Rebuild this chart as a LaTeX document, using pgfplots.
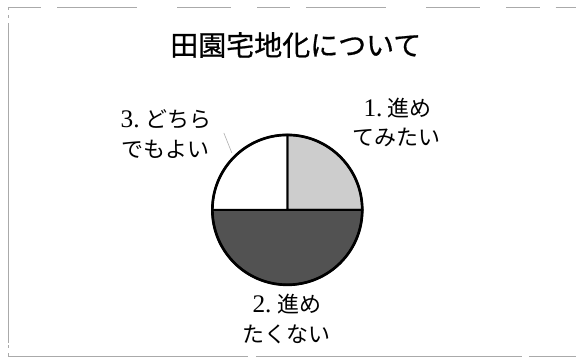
\documentclass[border=0pt]{standalone}
\usepackage{pgfplots}
\pgfplotsset{compat=1.18}
\usepackage{fontspec}
\setmainfont{Liberation Serif}
\newfontfamily\cjk{Noto Sans CJK JP}
\newfontfamily\cjkt[FakeBold=0.7]{Noto Sans CJK JP}
\definecolor{sliceA}{RGB}{205,205,205}
\definecolor{sliceB}{RGB}{82,82,82}
\definecolor{frame}{RGB}{170,170,170}
% values (percent)
\def\va{25}% 1. 進めてみたい
\def\vb{50}% 2. 進めたくない
\def\vc{25}% 3. どちらでもよい
\def\r{56.25pt}
\begin{document}
\begin{tikzpicture}
\begin{axis}[scale only axis, width=432pt, height=268.5pt,
  xmin=0, xmax=576, ymin=0, ymax=358, hide axis, clip=false]
\path (axis cs:0,0) rectangle (axis cs:576,358);
% frame (scan border)
\draw[frame, line width=0.6pt, dash pattern=on 25pt off 12pt on 60pt off 30pt on 40pt off 20pt] (axis cs:8,351) -- (axis cs:576,351);
\draw[frame, line width=0.7pt, dash pattern=on 2pt off 4pt on 2pt off 4pt on 240pt off 2pt] (axis cs:8,351) -- (axis cs:8,1);
\draw[frame, line width=0.6pt, dash pattern=on 180pt off 6pt on 200pt off 5pt] (axis cs:8,1) -- (axis cs:576,1);
% slices
\filldraw[fill=sliceA, draw=black, line width=1.5pt] (axis cs:287.5,148) -- ++(90:\r)
  arc[start angle=90, delta angle={-3.6*\va}, radius=\r] -- cycle;
\filldraw[fill=sliceB, draw=black, line width=1.5pt] (axis cs:287.5,148) -- ++({90-3.6*\va}:\r)
  arc[start angle={90-3.6*\va}, delta angle={-3.6*\vb}, radius=\r] -- cycle;
\filldraw[fill=white, draw=black, line width=1.5pt] (axis cs:287.5,148) -- ++({90-3.6*(\va+\vb)}:\r)
  arc[start angle={90-3.6*(\va+\vb)}, delta angle={-3.6*\vc}, radius=\r] -- cycle;
\draw[black, line width=2pt] (axis cs:287.5,148) circle[radius=\r];
% leader
\draw[gray!60, line width=0.5pt] (axis cs:224,225) -- (axis cs:232,205);
% title
\node[font=\cjkt\fontsize{21}{24}\selectfont] at (axis cs:296,313) {田園宅地化について};
% labels
\node[font=\fontsize{16.5}{19}\selectfont] at (axis cs:398,250) {{\fontsize{19}{19}\selectfont 1.}\ {\cjk 進め}};
\node[font=\cjk\fontsize{16.5}{19}\selectfont] at (axis cs:397,220) {てみたい};
\node[font=\fontsize{16.5}{19}\selectfont] at (axis cs:166,239) {{\fontsize{19}{19}\selectfont 3.}\ {\cjk どちら}};
\node[font=\cjk\fontsize{16.5}{19}\selectfont] at (axis cs:166,209) {でもよい};
\node[font=\fontsize{16.5}{19}\selectfont] at (axis cs:287,54) {{\fontsize{19}{19}\selectfont 2.}\ {\cjk 進め}};
\node[font=\cjk\fontsize{16.5}{19}\selectfont] at (axis cs:287,23) {たくない};
\end{axis}
\end{tikzpicture}
\end{document}
